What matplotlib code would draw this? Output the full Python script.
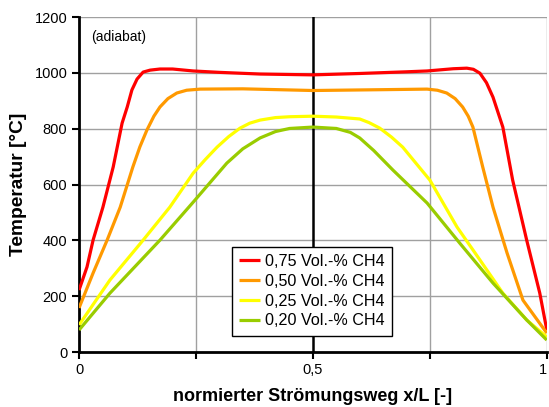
import matplotlib.pyplot as plt

plt.rcParams['font.family'] = ['Liberation Sans', 'DejaVu Sans']

# Temperature profiles along the normalised flow path
x_075 = [0.0, 0.017, 0.03, 0.051, 0.073, 0.092, 0.103, 0.113, 0.124, 0.137, 0.152,
         0.173, 0.2, 0.244, 0.3, 0.387, 0.5, 0.6, 0.7, 0.744, 0.8, 0.829, 0.843,
         0.857, 0.871, 0.885, 0.906, 0.927, 0.957, 0.985, 1.0]
t_075 = [222, 305, 401, 519, 663, 820, 878, 939, 978, 1003, 1010,
         1014, 1014, 1007, 1002, 996, 993, 998, 1004, 1007, 1015, 1017, 1013,
         999, 965, 913, 806, 616, 401, 211, 79]

x_050 = [0.0, 0.03, 0.06, 0.088, 0.115, 0.13, 0.145, 0.16, 0.173, 0.19, 0.209, 0.23,
         0.259, 0.35, 0.5, 0.65, 0.744, 0.766, 0.786, 0.804, 0.82, 0.832, 0.842,
         0.863, 0.885, 0.915, 0.949, 1.0]
t_050 = [158, 283, 401, 519, 663, 735, 795, 845, 878, 908, 928, 938,
         942, 943, 937, 940, 942, 938, 928, 908, 878, 845, 806,
         663, 519, 355, 186, 68]

x_025 = [0.0, 0.066, 0.137, 0.194, 0.244, 0.27, 0.295, 0.32, 0.344, 0.365, 0.387,
         0.42, 0.45, 0.5, 0.55, 0.6, 0.62, 0.643, 0.668, 0.692, 0.75, 0.808,
         0.857, 0.906, 0.957, 1.0]
t_025 = [97, 258, 401, 519, 641, 690, 734, 772, 802, 820, 831,
         840, 843, 845, 842, 835, 822, 802, 770, 734, 616, 448,
         330, 211, 115, 54]

x_020 = [0.0, 0.066, 0.173, 0.244, 0.316, 0.35, 0.387, 0.42, 0.45, 0.5, 0.55,
         0.58, 0.6, 0.63, 0.671, 0.744, 0.814, 0.885, 0.957, 1.0]
t_020 = [79, 211, 401, 537, 677, 728, 767, 790, 801, 806, 801,
         787, 767, 722, 652, 534, 390, 247, 115, 43]

labels = ['0,75 Vol.-% CH4', '0,50 Vol.-% CH4', '0,25 Vol.-% CH4', '0,20 Vol.-% CH4']
colors = ['#ff0000', '#ff9900', '#ffff00', '#99cc00']

fig = plt.figure(figsize=(5.49, 4.07), dpi=100)
ax = fig.add_axes([0.144, 0.135, 0.852, 0.823])

# grid
for yv in range(200, 1201, 200):
    ax.axhline(yv, color='#a0a0a0', lw=1, zorder=1)
for xv in [0.25, 0.75, 1.0]:
    ax.axvline(xv, color='#a0a0a0', lw=1, zorder=1)
ax.axvline(0.5, color='black', lw=1.8, zorder=1)

series = [(x_075, t_075), (x_050, t_050), (x_025, t_025), (x_020, t_020)]
for (xs, ts), lab, c in zip(series, labels, colors):
    ax.plot(xs, ts, color=c, lw=2.3, label=lab, zorder=3,
            solid_joinstyle='round', solid_capstyle='butt')

ax.set_xlim(0, 1)
ax.set_ylim(0, 1200)
ax.set_xticks([0, 0.25, 0.5, 0.75, 1])
ax.set_xticklabels(['0', '', '0,5', '', '1'])
ax.set_yticks(range(0, 1201, 200))
ax.tick_params(direction='out', length=5, width=1.5, labelsize=10.5, colors='black')
ax.tick_params(axis='x', pad=3)
ax.get_xticklabels()[-1].set_horizontalalignment('right')
ax.get_xticklabels()[-1].set_x(1.005)

for s in ['top', 'right']:
    ax.spines[s].set_visible(False)
for s in ['left', 'bottom']:
    ax.spines[s].set_linewidth(2)

ax.set_xlabel('normierter Strömungsweg x/L [-]', fontsize=13, fontweight='bold', labelpad=8)
ax.set_ylabel('Temperatur [°C]', fontsize=13.8, fontweight='bold', labelpad=5)

ax.text(0.026, 0.94, '(adiabat)', transform=ax.transAxes, fontsize=10, va='center')

leg = ax.legend(loc='lower center', bbox_to_anchor=(0.498, 0.025), fontsize=11.6,
                frameon=True, fancybox=False, edgecolor='black', framealpha=1,
                handlelength=1.3, handletextpad=0.3, labelspacing=0.3, borderpad=0.45)
leg.get_frame().set_linewidth(1)
leg.set_zorder(5)

fig.savefig('out.png', dpi=100)
